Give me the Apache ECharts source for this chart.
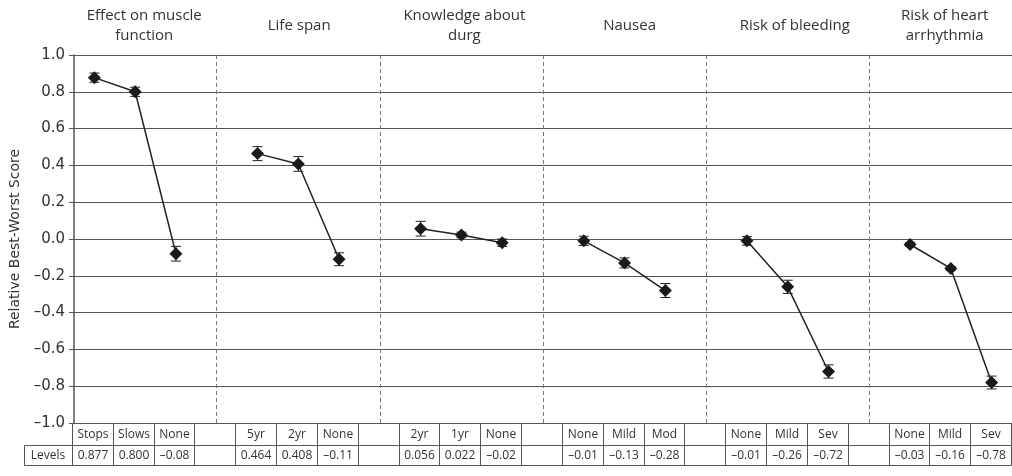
<!DOCTYPE html>
<html>
<head>
<meta charset="utf-8">
<style>
  html, body { margin: 0; padding: 0; background: #fff; }
  #chart { width: 1012px; height: 476px; }
</style>
<script src="https://cdn.jsdelivr.net/npm/echarts@6/dist/echarts.min.js"></script>
</head>
<body>
<div id="chart"></div>
<script>
// 属性名称
const attributes = ['Effect on muscle\nfunction', 'Life span', 'Knowledge about\ndurg', 'Nausea', 'Risk of bleeding', 'Risk of heart\narrhythmia']
// 每个属性的水平
const levelNames = [
  ['Stops', 'Slows', 'None'],
  ['5yr', '2yr', 'None'],
  ['2yr', '1yr', 'None'],
  ['None', 'Mild', 'Mod'],
  ['None', 'Mild', 'Sev'],
  ['None', 'Mild', 'Sev']
]
// 相对得分
const scores = [
  [0.877, 0.800, -0.08],
  [0.464, 0.408, -0.11],
  [0.056, 0.022, -0.02],
  [-0.01, -0.13, -0.28],
  [-0.01, -0.26, -0.72],
  [-0.03, -0.16, -0.78]
]
// 误差线半宽
const errors = [
  [0.025, 0.025, 0.04],
  [0.038, 0.04, 0.035],
  [0.04, 0.015, 0.02],
  [0.025, 0.027, 0.038],
  [0.024, 0.036, 0.036],
  [0.01, 0.01, 0.035]
]

// 拼出类目（每组之间留一个空位）
const slots = []
const names = []
const values = []
const bars = []
const gaps = []
attributes.forEach((a, g) => {
  levelNames[g].forEach((lv, i) => {
    bars.push([slots.length, scores[g][i] - errors[g][i], scores[g][i] + errors[g][i]])
    slots.push(g + '-' + i)
    names.push(lv)
    values.push(scores[g][i])
  })
  if (g < attributes.length - 1) {
    gaps.push(g + '-gap')
    slots.push(g + '-gap')
    names.push('')
    values.push('-')
  }
})

const fmt = v => v >= 0 ? v.toFixed(3) : '\u2013' + Math.abs(v).toFixed(2)

// 布局
const W = 1012
const H = 476
const plotLeft = 72
const plotRight = 1022
const plotTop = 55
const plotBottom = 423
const slotW = (plotRight - plotLeft) / slots.length
const tableLeft = 72
const tableRight = 1011
const row1 = 423
const row2 = 445
const row3 = 465
const levelsLeft = 24
const cellW = (tableRight - tableLeft) / slots.length
const textColor = '#333'
const border = '#555'
const tableFont = 'Open Sans'

const graphics = []
// 顶部标题
attributes.forEach((a, g) => {
  const l = g === 0 ? plotLeft : plotLeft + (4 * g - 0.5) * slotW
  const r = g === attributes.length - 1 ? W : plotLeft + (4 * g + 3.5) * slotW
  graphics.push({
    type: 'text', x: (l + r) / 2, y: 26,
    style: { text: a, fontFamily: 'Open Sans', fontSize: 15, fill: textColor, align: 'center', verticalAlign: 'middle', lineHeight: 20 }
  })
})
// 数据表
const edge = i => Math.round(tableLeft + i * cellW) + 0.5
const cellStyle = { fill: 'none', stroke: border, lineWidth: 1 }
for (let i = 0; i < slots.length; i++) {
  const x0 = edge(i)
  const x1 = i === slots.length - 1 ? tableRight + 0.5 : edge(i + 1)
  graphics.push({ type: 'rect', shape: { x: x0, y: row1 + 0.5, width: x1 - x0, height: row2 - row1 }, style: cellStyle })
  graphics.push({ type: 'rect', shape: { x: x0, y: row2 + 0.5, width: x1 - x0, height: row3 - row2 }, style: cellStyle })
  graphics.push({
    type: 'text', x: (x0 + x1) / 2, y: (row1 + row2) / 2 + 1,
    style: { text: names[i], fontFamily: tableFont, fontSize: 12, fill: textColor, align: 'center', verticalAlign: 'middle' }
  })
  if (values[i] !== '-') {
    graphics.push({
      type: 'text', x: (x0 + x1) / 2, y: (row2 + row3) / 2 + 1,
      style: { text: fmt(values[i]), fontFamily: tableFont, fontSize: 12, fill: textColor, align: 'center', verticalAlign: 'middle' }
    })
  }
}
graphics.push({ type: 'rect', shape: { x: levelsLeft + 0.5, y: row2 + 0.5, width: edge(0) - levelsLeft - 0.5, height: row3 - row2 }, style: cellStyle })
graphics.push({
  type: 'text', x: (levelsLeft + tableLeft) / 2, y: (row2 + row3) / 2 + 1,
  style: { text: 'Levels', fontFamily: tableFont, fontSize: 12, fill: textColor, align: 'center', verticalAlign: 'middle' }
})

const chart = echarts.init(document.getElementById('chart'))
chart.setOption({
  animation: false,
  grid: { left: plotLeft, right: W - plotRight, top: plotTop, bottom: H - plotBottom },
  xAxis: {
    type: 'category',
    data: slots,
    boundaryGap: true,
    axisLine: { show: false },
    axisTick: { show: false },
    axisLabel: { show: false },
    splitLine: { show: false }
  },
  yAxis: {
    type: 'value',
    min: -1,
    max: 1,
    interval: 0.2,
    name: 'Relative Best-Worst Score',
    nameLocation: 'middle',
    nameGap: 52,
    nameTextStyle: { fontFamily: 'DejaVu Sans', fontSize: 14, color: textColor },
    axisLine: { show: true, lineStyle: { color: border, width: 1.5 } },
    axisTick: { show: true, length: 5, lineStyle: { color: border } },
    axisLabel: {
      fontFamily: 'DejaVu Sans', fontSize: 15, color: textColor, margin: 9,
      formatter: v => Math.abs(v) < 1e-9 ? '0.0' : v.toFixed(1).replace('-', '\u2013')
    },
    splitLine: { lineStyle: { color: border, width: 1 } }
  },
  series: [
    {
      type: 'custom',
      data: bars,
      encode: { x: 0, y: [1, 2] },
      z: 2,
      renderItem: (params, api) => {
        const x = api.value(0)
        const lo = api.coord([x, api.value(1)])
        const hi = api.coord([x, api.value(2)])
        const style = { stroke: '#222', lineWidth: 1 }
        return {
          type: 'group',
          children: [
            { type: 'line', shape: { x1: hi[0], y1: hi[1], x2: lo[0], y2: lo[1] }, style },
            { type: 'line', shape: { x1: hi[0] - 5, y1: hi[1], x2: hi[0] + 5, y2: hi[1] }, style },
            { type: 'line', shape: { x1: lo[0] - 5, y1: lo[1], x2: lo[0] + 5, y2: lo[1] }, style }
          ]
        }
      }
    },
    {
      type: 'line',
      data: values,
      z: 3,
      connectNulls: false,
      symbol: 'diamond',
      symbolSize: 13,
      itemStyle: { color: '#1a1a1a' },
      lineStyle: { color: '#222', width: 1.5 },
      markLine: {
        silent: true,
        symbol: ['none', 'none'],
        label: { show: false },
        lineStyle: { type: [4, 3], color: '#777', width: 1 },
        data: gaps.map(g => ({ xAxis: g }))
      }
    }
  ],
  graphic: graphics
})
</script>
</body>
</html>
